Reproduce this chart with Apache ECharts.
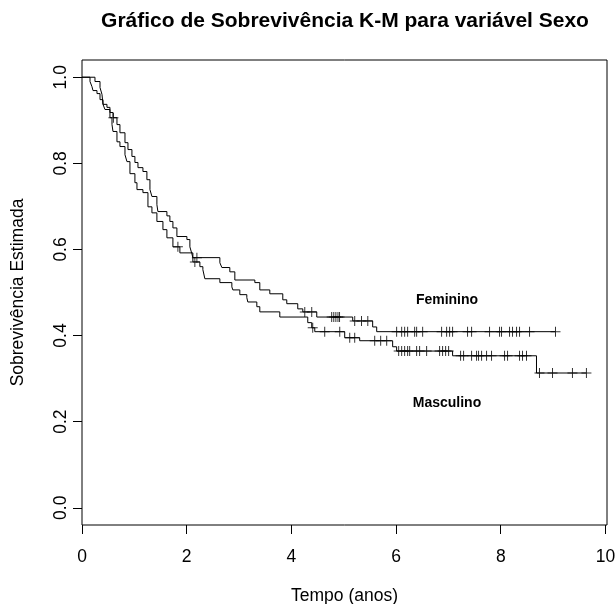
<!DOCTYPE html>
<html lang="pt">
<head>
<meta charset="UTF-8">
<title>Gráfico de Sobrevivência K-M para variável Sexo</title>
<script src="https://cdn.jsdelivr.net/npm/echarts@6/dist/echarts.min.js"></script>
<style>
  html, body { margin: 0; padding: 0; background: #fff; }
  #main { width: 616px; height: 604px; }
</style>
</head>
<body>
<div id="main"></div>
<script>
// tempos (anos) em que a curva cai, e a sobrevivência logo após
var femT = [0, 0.248, 0.344, 0.382, 0.401, 0.477, 0.534, 0.592, 0.668, 0.725, 0.821, 0.878, 0.954, 1.011, 1.069,
  1.164, 1.240, 1.298, 1.336, 1.431, 1.450, 1.622, 1.679, 1.737, 1.813, 2.004, 2.061, 2.099, 2.118,
  2.634, 2.672, 2.824, 2.920, 3.302, 3.397, 3.588, 3.836, 3.912, 4.122, 4.218, 4.485, 5.172, 5.553, 5.630];
var femS = [1.0, 0.990, 0.976, 0.960, 0.937, 0.930, 0.918, 0.906, 0.890, 0.871, 0.848, 0.832, 0.816, 0.802, 0.790,
  0.781, 0.762, 0.739, 0.723, 0.704, 0.688, 0.678, 0.665, 0.650, 0.630, 0.623, 0.606, 0.590, 0.581,
  0.569, 0.558, 0.548, 0.529, 0.523, 0.506, 0.497, 0.483, 0.474, 0.462, 0.455, 0.443, 0.434, 0.420, 0.409];
var femCens = [0.600, 2.195, 4.256, 4.389, 4.77, 4.81, 4.85, 4.89, 4.92, 5.21, 5.34, 5.46,
  6.011, 6.107, 6.164, 6.221, 6.355, 6.393, 6.508, 6.870, 6.966, 7.023, 7.080, 7.366, 7.443,
  7.786, 7.977, 8.015, 8.168, 8.225, 8.302, 8.359, 8.550, 9.046];

var mascT = [0, 0.153, 0.191, 0.210, 0.286, 0.344, 0.401, 0.439, 0.534, 0.573, 0.592, 0.668, 0.725, 0.821, 0.859,
  0.916, 1.011, 1.050, 1.164, 1.260, 1.336, 1.431, 1.546, 1.622, 1.737, 1.870, 2.118, 2.252, 2.309, 2.347,
  2.634, 2.863, 2.882, 3.015, 3.149, 3.168, 3.340, 3.397, 3.779, 4.313, 4.389, 4.447, 5.019, 5.305, 5.935,
  6.011, 7.080, 8.683];
var mascS = [1.0, 0.990, 0.978, 0.969, 0.962, 0.948, 0.937, 0.925, 0.906, 0.890, 0.874, 0.850, 0.839, 0.820, 0.804,
  0.776, 0.755, 0.739, 0.732, 0.699, 0.685, 0.665, 0.646, 0.627, 0.606, 0.592, 0.571, 0.560, 0.553, 0.532,
  0.523, 0.513, 0.506, 0.495, 0.488, 0.478, 0.467, 0.455, 0.443, 0.430, 0.418, 0.409, 0.395, 0.388, 0.374,
  0.364, 0.353, 0.313];
var mascCens = [1.832, 2.156, 4.408, 4.637, 4.924, 5.115, 5.210, 5.592, 5.706, 5.821,
  6.050, 6.107, 6.164, 6.221, 6.260, 6.393, 6.450, 6.584, 6.832, 6.889, 6.947, 7.004,
  7.233, 7.290, 7.443, 7.538, 7.576, 7.634, 7.729, 7.824, 8.073, 8.130, 8.359, 8.416, 8.492,
  8.740, 8.989, 9.370, 9.637];

var xTicks = [0, 2, 4, 6, 8, 10];
var yTicks = [0, 0.2, 0.4, 0.6, 0.8, 1.0];

// curva em degraus: valor da sobrevivência num tempo t
function survAt(T, S, t) {
  var v = S[0];
  for (var i = 0; i < T.length; i++) {
    if (T[i] <= t) v = S[i];
  }
  return v;
}
function curve(T, S, cens) {
  var pts = [];
  for (var i = 0; i < T.length; i++) pts.push([T[i], S[i]]);
  var last = cens[cens.length - 1];
  pts.push([last, S[S.length - 1]]);
  return pts;
}
function marks(T, S, cens) {
  return cens.map(function (t) { return [t, survAt(T, S, t)]; });
}

var cruz = 'path://M4.5,0h1v10h-1zM0,4.5h10v1h-10z';
var font = 'Liberation Sans, Arial, sans-serif';

var myChart = echarts.init(document.getElementById('main'));
var option = {
  animation: false,
  backgroundColor: '#fff',
  grid: {
    left: 82, right: 9, top: 60, bottom: 79,
    outerBoundsMode: 'none',
    show: true, borderColor: '#000', borderWidth: 1
  },
  xAxis: {
    type: 'value', min: 0, max: 10.03,
    name: 'Tempo (anos)', nameLocation: 'middle', nameGap: 62,
    nameTextStyle: { fontFamily: font, fontSize: 17.5, color: '#000' },
    axisLine: { show: false, onZero: false },
    splitLine: { show: false },
    axisTick: { show: true, length: 9, lineStyle: { color: '#000' }, customValues: xTicks },
    axisLabel: { margin: 23, fontFamily: font, fontSize: 17.5, color: '#000', customValues: xTicks }
  },
  yAxis: {
    type: 'value', min: -0.04, max: 1.04,
    name: 'Sobrevivência Estimada', nameLocation: 'middle', nameGap: 55,
    nameTextStyle: { fontFamily: font, fontSize: 17.5, color: '#000' },
    axisLine: { show: false, onZero: false },
    splitLine: { show: false },
    axisTick: { show: true, length: 9, lineStyle: { color: '#000' }, customValues: yTicks },
    axisLabel: {
      margin: 12, rotate: 90, fontFamily: font, fontSize: 17.5, color: '#000',
      customValues: yTicks,
      formatter: function (v) { return v.toFixed(1); }
    }
  },
  series: [
    {
      name: 'Feminino', type: 'line', step: 'end', showSymbol: false,
      lineStyle: { color: '#000', width: 1 },
      data: curve(femT, femS, femCens)
    },
    {
      name: 'Masculino', type: 'line', step: 'end', showSymbol: false,
      lineStyle: { color: '#000', width: 1 },
      data: curve(mascT, mascS, mascCens)
    },
    {
      type: 'scatter', symbol: cruz, symbolSize: 10,
      itemStyle: { color: '#000' },
      data: marks(femT, femS, femCens)
    },
    {
      type: 'scatter', symbol: cruz, symbolSize: 10,
      itemStyle: { color: '#000' },
      data: marks(mascT, mascS, mascCens)
    }
  ],
  graphic: [
    {
      type: 'text', x: 345, y: 21,
      style: {
        text: 'Gráfico de Sobrevivência K-M para variável Sexo',
        font: 'bold 21px ' + font, fill: '#000', align: 'center', verticalAlign: 'middle'
      }
    },
    {
      type: 'text', x: 447, y: 300,
      style: { text: 'Feminino', font: 'bold 14px ' + font, fill: '#000', align: 'center', verticalAlign: 'middle' }
    },
    {
      type: 'text', x: 447, y: 403,
      style: { text: 'Masculino', font: 'bold 14px ' + font, fill: '#000', align: 'center', verticalAlign: 'middle' }
    }
  ]
};
myChart.setOption(option);
</script>
</body>
</html>
